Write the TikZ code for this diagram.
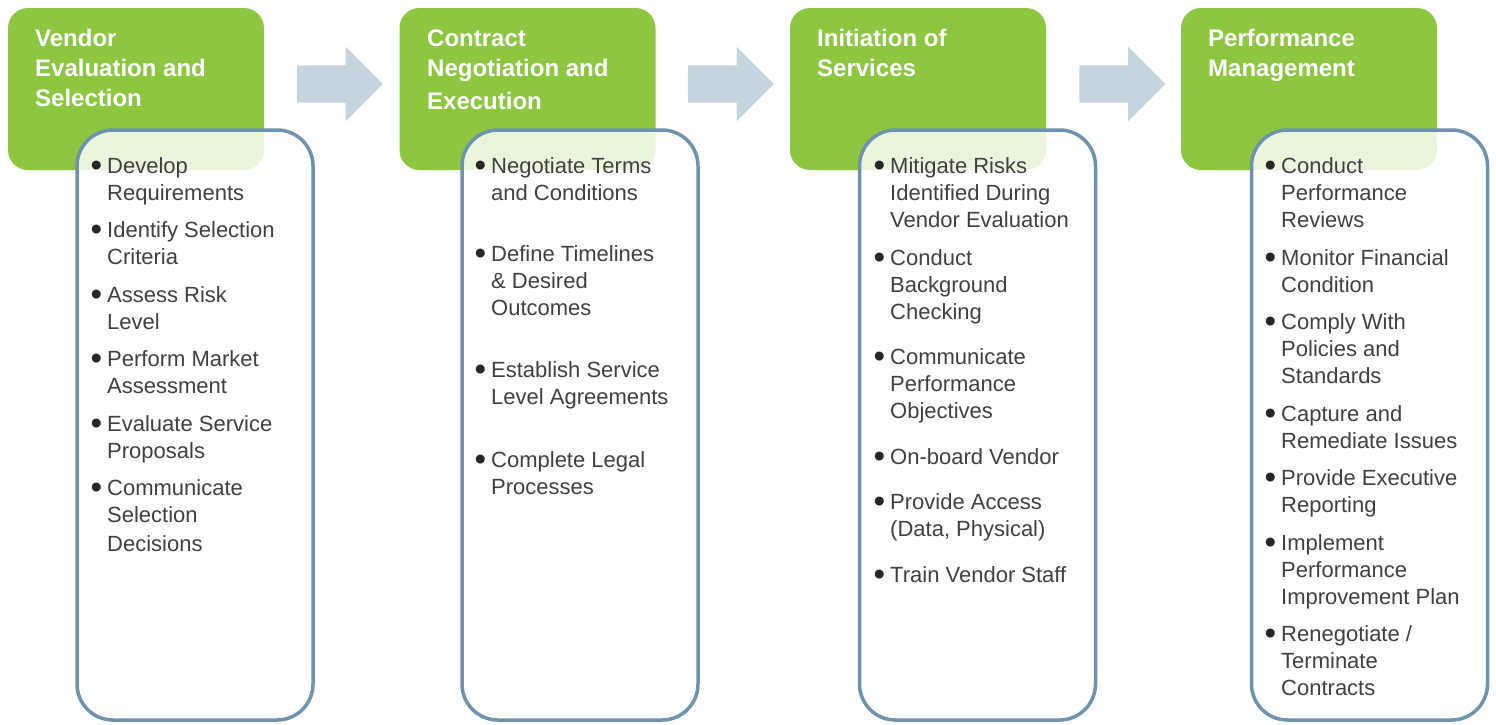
\documentclass[tikz,border=0pt]{standalone}
\usepackage{fontspec}
\setmainfont{Liberation Sans}
\usetikzlibrary{shapes.arrows}
\definecolor{stagegreen}{HTML}{8DC63F}
\definecolor{listblue}{HTML}{7093AD}
\definecolor{flowgray}{HTML}{C6D4DE}
\definecolor{bodygray}{HTML}{404040}
\newcommand{\tstrut}{\rule{0pt}{20pt}}
\newcommand{\hstrut}{\rule{0pt}{22pt}}
\newcommand{\bul}{\llap{\raisebox{-3.5pt}{\fontsize{33}{33}\selectfont\color{black!85}\textbullet}\hspace{5pt}}}

\begin{document}
\begin{tikzpicture}[x=1pt,y=-1pt,
    stage/.style={fill=stagegreen, rounded corners=20pt, minimum width=256pt, minimum height=162pt, inner sep=0pt},
    stagetitle/.style={anchor=north west, inner sep=0pt, align=left, text=white, font=\fontsize{24}{30}\selectfont\bfseries},
    tasklist/.style={draw=listblue, line width=3.5pt, fill=white, fill opacity=0.83, rounded corners=36pt, minimum width=236pt, minimum height=590pt, inner sep=0pt},
    task/.style={anchor=north west, inner sep=0pt, align=left, text=bodygray, font=\fontsize{22}{27.3}\selectfont},
    flow/.style={single arrow, fill=flowgray, inner sep=18.5pt, minimum height=86pt, minimum width=74pt, single arrow head extend=18.5pt, single arrow head indent=0pt}]
        \useasboundingbox (0,0) rectangle (1496,724);
        % stages
        \node [stage] (stage1) at (136,89) {};
        \node [stage] (stage2) at (527.5,89) {};
        \node [stage] (stage3) at (918,89) {};
        \node [stage] (stage4) at (1309,89) {};
        \node [flow] (next1) at (330.5,84) {};
        \node [flow] (next2) at (721.5,84) {};
        \node [flow] (next3) at (1113,84) {};
        % task lists sit over the stages
        \node [tasklist] (list1) at (195,425) {};
        \node [tasklist] (list2) at (580,425) {};
        \node [tasklist] (list3) at (977.5,425) {};
        \node [tasklist] (list4) at (1369.5,425) {};
        \node [stagetitle] (title1) at (35,24.5) {\hstrut Vendor\\Evaluation and\\Selection};
        \node [stagetitle] (title2) at (427,24.5) {\hstrut Contract\\Negotiation and\\[3pt]Execution};
        \node [stagetitle] (title3) at (817,24.5) {\hstrut Initiation of\\Services};
        \node [stagetitle] (title4) at (1208,24.5) {\hstrut Performance\\Management};
        % stage 1
        \node [task] (t1a) at (107,153) {\tstrut\bul Develop\\Requirements};
        \node [task] (t1b) at (107,217) {\tstrut\bul Identify Selection\\Criteria};
        \node [task] (t1c) at (107,282) {\tstrut\bul Assess Risk\\Level};
        \node [task] (t1d) at (107,346) {\tstrut\bul Perform Market\\Assessment};
        \node [task] (t1e) at (107,411) {\tstrut\bul Evaluate Service\\Proposals};
        \node [task] (t1f) at (107,475) {\tstrut\bul Communicate\\Selection\\[2pt]Decisions};
        % stage 2
        \node [task] (t2a) at (491,153) {\tstrut\bul Negotiate Terms\\and Conditions};
        \node [task] (t2b) at (491,241) {\tstrut\bul Define Timelines\\\& Desired\\Outcomes};
        \node [task] (t2c) at (491,357) {\tstrut\bul Establish Service\\Level Agreements};
        \node [task] (t2d) at (491,447) {\tstrut\bul Complete Legal\\Processes};
        % stage 3
        \node [task] (t3a) at (890,153) {\tstrut\bul Mitigate Risks\\Identified During\\Vendor Evaluation};
        \node [task] (t3b) at (890,245) {\tstrut\bul Conduct\\Background\\Checking};
        \node [task] (t3c) at (890,344) {\tstrut\bul Communicate\\Performance\\Objectives};
        \node [task] (t3d) at (890,444) {\tstrut\bul On-board Vendor};
        \node [task] (t3e) at (890,489) {\tstrut\bul Provide Access\\(Data, Physical)};
        \node [task] (t3f) at (890,562) {\tstrut\bul Train Vendor Staff};
        % stage 4
        \node [task] (t4a) at (1281,153) {\tstrut\bul Conduct\\Performance\\Reviews};
        \node [task] (t4b) at (1281,245) {\tstrut\bul Monitor Financial\\Condition};
        \node [task] (t4c) at (1281,309) {\tstrut\bul Comply With\\Policies and\\Standards};
        \node [task] (t4d) at (1281,401) {\tstrut\bul Capture and\\Remediate Issues};
        \node [task] (t4e) at (1281,465) {\tstrut\bul Provide Executive\\Reporting};
        \node [task] (t4f) at (1281,530) {\tstrut\bul Implement\\Performance\\Improvement Plan};
        \node [task] (t4g) at (1281,621) {\tstrut\bul Renegotiate /\\Terminate\\Contracts};
\end{tikzpicture}
\end{document}
